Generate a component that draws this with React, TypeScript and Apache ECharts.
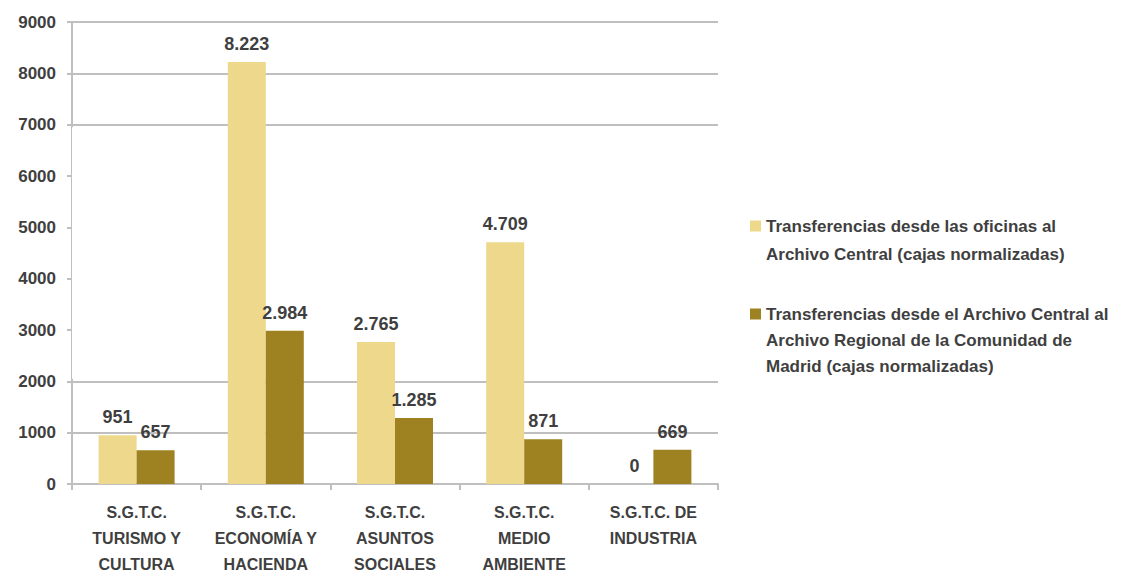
import React, { useEffect, useRef } from "react";
import * as echarts from "echarts";

// Categories (one per Secretaría General Técnica)
const categories = [
  "S.G.T.C.\nTURISMO Y\nCULTURA",
  "S.G.T.C.\nECONOMÍA Y\nHACIENDA",
  "S.G.T.C.\nASUNTOS\nSOCIALES",
  "S.G.T.C.\nMEDIO\nAMBIENTE",
  "S.G.T.C. DE\nINDUSTRIA",
];

const seriesNames = [
  "Transferencias desde las oficinas al Archivo Central (cajas normalizadas)",
  "Transferencias desde el Archivo Central al Archivo Regional de la Comunidad de Madrid (cajas normalizadas)",
];

// Legend text broken into the lines it is drawn on
const legendLines = [
  ["Transferencias desde las oficinas al", "Archivo Central (cajas normalizadas)"],
  [
    "Transferencias desde el Archivo Central al",
    "Archivo Regional de la Comunidad de",
    "Madrid (cajas normalizadas)",
  ],
];

// Boxes sent to the Central Archive
const toCentral = [951, 8223, 2765, 4709, 0];
// Boxes sent from the Central Archive to the Regional Archive
const toRegional = [657, 2984, 1285, 871, 669];

const yTicks = { min: 0, max: 9000, interval: 1000 };
// Horizontal guide lines that are drawn across the plot
const guideValues = [1000, 2000, 7000, 8000, 9000];
// Band of the plot left without guide lines
const plainBand = [2050, 6950];

const LIGHT = "#EDD88C";
const DARK = "#9E8222";
const TEXT = "#3f3f3f";
const GRID = "#bfbfbf";
const FONT = "'Liberation Sans', Arial, sans-serif";

const fmt = (v: number) => String(v).replace(/\B(?=(\d{3})+(?!\d))/g, ".");

export default function App() {
  const ref = useRef<HTMLDivElement>(null);

  useEffect(() => {
    if (!ref.current) return;
    const chart = echarts.init(ref.current, null, { renderer: "svg" });

    const labelStyle = {
      show: true,
      position: "top" as const,
      distance: 9,
      color: TEXT,
      fontFamily: FONT,
      fontWeight: "bold" as const,
      fontSize: 18,
      formatter: (p: any) => fmt(p.value),
    };

    const legendBase = {
      orient: "vertical" as const,
      left: 750,
      padding: 0,
      itemWidth: 11,
      itemHeight: 11,
      itemGap: 0,
      icon: "rect",
      selectedMode: false,
    };

    // Leading blank lines keep the legend marker level with the first text line
    const legendText = (lines: string[]) =>
      "\n".repeat(lines.length - 1) + lines.join("\n");

    chart.setOption({
      animation: false,
      backgroundColor: "#ffffff",
      grid: { left: 72, right: 405, top: 22, bottom: 87 },
      legend: [
        {
          ...legendBase,
          top: 184,
          data: [seriesNames[0]],
          formatter: () => legendText(legendLines[0]),
          textStyle: { color: TEXT, fontFamily: FONT, fontWeight: "bold", fontSize: 17, lineHeight: 28 },
        },
        {
          ...legendBase,
          top: 249,
          data: [seriesNames[1]],
          formatter: () => legendText(legendLines[1]),
          textStyle: { color: TEXT, fontFamily: FONT, fontWeight: "bold", fontSize: 17, lineHeight: 26 },
        },
      ],
      xAxis: {
        type: "category",
        data: categories,
        axisLine: { lineStyle: { color: GRID, width: 2 } },
        axisTick: { show: true, length: 6, lineStyle: { color: GRID, width: 2 } },
        axisLabel: {
          color: TEXT,
          fontFamily: FONT,
          fontWeight: "bold",
          fontSize: 16,
          lineHeight: 26,
          margin: 15,
          interval: 0,
        },
      },
      yAxis: {
        type: "value",
        min: yTicks.min,
        max: yTicks.max,
        interval: yTicks.interval,
        axisLine: { show: true, lineStyle: { color: GRID, width: 2 } },
        axisTick: { show: true, length: 5, lineStyle: { color: GRID, width: 2 } },
        axisLabel: {
          color: TEXT,
          fontFamily: FONT,
          fontWeight: "bold",
          fontSize: 17,
          margin: 16,
          formatter: (v: number) => String(v),
        },
        splitLine: { show: true, lineStyle: { color: "#ffffff", width: 1 } },
      },
      series: [
        {
          name: seriesNames[0],
          type: "bar",
          data: toCentral,
          barWidth: 38,
          barGap: "0%",
          z: 3,
          itemStyle: { color: LIGHT },
          label: labelStyle,
          markLine: {
            silent: true,
            z: 1,
            symbol: "none",
            label: { show: false },
            lineStyle: { color: GRID, width: 2, type: "solid" },
            data: guideValues.map((v) => ({ yAxis: v })),
          },
          // White band in the middle of the plot, beneath the bars
          markArea: {
            silent: true,
            z: 2,
            label: { show: false },
            itemStyle: { color: "#ffffff", opacity: 1 },
            data: [[{ yAxis: plainBand[0] }, { yAxis: plainBand[1] }]],
          },
        },
        {
          name: seriesNames[1],
          type: "bar",
          data: toRegional,
          barWidth: 38,
          barGap: "0%",
          z: 3,
          itemStyle: { color: DARK },
          label: labelStyle,
        },
      ],
    });

    return () => chart.dispose();
  }, []);

  return <div ref={ref} style={{ position: "fixed", left: 0, top: 0, width: 1123, height: 577 }} />;
}
